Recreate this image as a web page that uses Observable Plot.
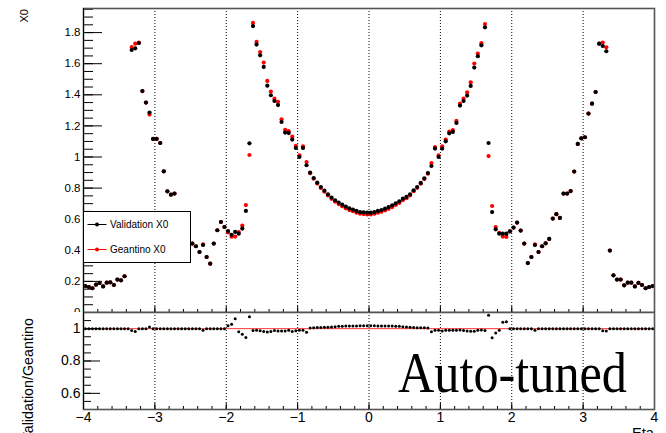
<!DOCTYPE html>
<html><head><meta charset="utf-8">
<script src="https://cdn.jsdelivr.net/npm/d3@7"></script>
<script src="https://cdn.jsdelivr.net/npm/@observablehq/plot@0.6"></script>
<style>
body{margin:0;background:#fff;}
#wrap{position:relative;width:666px;height:433px;overflow:hidden;font-family:"Liberation Sans",Arial,sans-serif;}
#wrap svg{position:absolute;left:0;top:0;}
</style></head><body><div id="wrap"></div>
<script>
// Histogram binning: 160 bins of width 0.05 over eta in [-4, 4]
const etaMin = -4, binWidth = 0.05, nBins = 160;

const validation = [
0.170,0.164,0.156,0.179,0.190,0.168,0.192,0.194,0.177,0.212,
0.207,0.233,0.398,1.688,1.699,1.733,1.424,1.350,1.286,1.116,
1.116,1.090,0.908,0.779,0.758,0.765,0.608,0.632,0.604,0.473,
0.443,0.426,0.389,0.434,0.357,0.314,0.443,0.529,0.582,0.550,
0.524,0.500,0.518,0.507,0.540,0.653,1.088,1.842,1.723,1.654,
1.579,1.459,1.397,1.360,1.334,1.225,1.157,1.154,1.112,1.058,
1.000,1.058,0.947,0.900,0.865,0.835,0.807,0.784,0.760,0.739,
0.722,0.707,0.694,0.681,0.670,0.662,0.653,0.646,0.644,0.642,
0.642,0.646,0.653,0.659,0.668,0.678,0.689,0.702,0.715,0.732,
0.743,0.760,0.786,0.807,0.833,0.863,0.897,0.942,1.054,1.000,
1.054,1.101,1.152,1.161,1.219,1.331,1.360,1.395,1.457,1.575,
1.648,1.718,1.834,1.090,0.646,0.535,0.507,0.507,0.507,0.522,
0.546,0.578,0.527,0.443,0.318,0.357,0.434,0.389,0.426,0.445,
0.473,0.604,0.632,0.608,0.765,0.765,0.781,0.906,1.084,1.120,
1.127,1.279,1.343,1.418,1.729,1.714,1.680,0.398,0.239,0.212,
0.212,0.175,0.192,0.192,0.168,0.190,0.177,0.156,0.164,0.170];

const geantino = [
0.170,0.164,0.156,0.179,0.190,0.168,0.192,0.194,0.177,0.212,
0.207,0.233,0.398,1.707,1.729,1.735,1.424,1.350,1.273,1.116,
1.116,1.090,0.908,0.779,0.758,0.765,0.608,0.632,0.604,0.473,
0.443,0.426,0.389,0.438,0.357,0.314,0.443,0.529,0.582,0.550,
0.515,0.487,0.488,0.517,0.559,0.691,1.013,1.862,1.740,1.675,
1.607,1.489,1.421,1.375,1.354,1.242,1.174,1.166,1.131,1.071,
1.010,1.069,0.968,0.896,0.860,0.829,0.801,0.777,0.753,0.731,
0.713,0.697,0.684,0.670,0.659,0.651,0.642,0.635,0.633,0.631,
0.631,0.635,0.642,0.648,0.657,0.667,0.678,0.692,0.705,0.723,
0.735,0.753,0.780,0.802,0.828,0.858,0.893,0.961,1.064,1.010,
1.069,1.112,1.163,1.173,1.232,1.343,1.375,1.416,1.480,1.601,
1.665,1.732,1.855,1.006,0.685,0.550,0.512,0.488,0.486,0.522,
0.546,0.578,0.527,0.443,0.318,0.357,0.438,0.389,0.426,0.445,
0.473,0.604,0.632,0.608,0.765,0.765,0.781,0.906,1.084,1.120,
1.127,1.279,1.343,1.418,1.729,1.736,1.705,0.398,0.239,0.212,
0.212,0.175,0.192,0.192,0.168,0.190,0.177,0.156,0.164,0.170];

const xMajorTicks = [-4,-3,-2,-1,0,1,2,3,4];
const xTickLabels = ["\u22124","\u22123","\u22122","\u22121","0","1","2","3","4"];
const gridX = [-3,-2,-1,0,1,2,3];
const topYTicks = [0,0.2,0.4,0.6,0.8,1,1.2,1.4,1.6,1.8];
const topYLabels = ["0","0.2","0.4","0.6","0.8","1","1.2","1.4","1.6","1.8"];
const ratioYTicks = [0.6,0.8,1];
const ratioYLabels = ["0.6","0.8","1"];
const legendLabels = ["Validation X0","Geantino X0"];

const xMinorTicks = d3.range(-40, 41, 2).map(d => d/10);
const topYMinor = d3.range(1, 40).map(d => d*0.05);
const ratioYMinor = d3.range(11, 23).map(d => d*0.05);

const rows = validation.map((v, i) => ({
  eta: etaMin + binWidth*(i + 0.5),
  validation: v,
  geantino: geantino[i],
  ratio: v / geantino[i]
}));

const FONT = "Liberation Sans, Arial, Helvetica, sans-serif";
const W = 666, ML = 83, MR = 12;
const innerW = W - ML - MR;

// ---------- top pad ----------
const topH = 312, topMT = 8, topMB = 0;
const topInnerH = topH - topMT - topMB;
const topPlot = Plot.plot({
  width: W, height: topH, marginLeft: ML, marginRight: MR, marginTop: topMT, marginBottom: topMB,
  x: {domain: [-4, 4], axis: null},
  y: {domain: [0, 1.955], axis: null},
  style: {fontFamily: FONT, overflow: "hidden", background: "transparent"},
  marks: [
    Plot.ruleX(gridX, {x: d => d, stroke: "#000", strokeDasharray: "1,2", strokeWidth: 1}),
    Plot.tickY(topYMinor, {y: d => d, insetRight: innerW - 10, stroke: "#000"}),
    Plot.tickY(topYTicks, {y: d => d, insetRight: innerW - 19, stroke: "#000"}),
    Plot.tickX(xMinorTicks, {x: d => d, insetTop: topInnerH - 3, stroke: "#000"}),
    Plot.tickX(xMajorTicks, {x: d => d, insetTop: topInnerH - 6, stroke: "#000"}),
    Plot.text(topYTicks, {y: d => d, text: (d, i) => topYLabels[i], frameAnchor: "left", dx: -3, textAnchor: "end", fontSize: 11.5, fill: "#000"}),
    Plot.dot(rows, {x: "eta", y: "geantino", r: 2.1, fill: "#ff0000"}),
    Plot.dot(rows, {x: "eta", y: "validation", r: 2.1, fill: "#000"}),
    Plot.frame({stroke: "#555", strokeWidth: 1.6}),
    Plot.ruleX([-4], {x: d => d, stroke: "#000", strokeWidth: 1})
  ]
});

// legend
{
  const svg = d3.select(topPlot);
  const g = svg.append("g").attr("font-family", FONT).attr("font-size", 10).attr("text-anchor", "start");
  g.append("rect").attr("x", 83.5).attr("y", 211.5).attr("width", 107).attr("height", 51)
    .attr("fill", "#fff").attr("stroke", "#000").attr("stroke-width", 1);
  const colors = ["#000", "#ff0000"];
  legendLabels.forEach((lab, i) => {
    const y = 224.5 + i*25;
    g.append("line").attr("x1", 87.5).attr("x2", 106.5).attr("y1", y).attr("y2", y).attr("stroke", colors[i]).attr("stroke-width", 1);
    g.append("circle").attr("cx", 97).attr("cy", y).attr("r", 2).attr("fill", colors[i]);
    g.append("text").attr("x", 110).attr("y", y).attr("dy", "0.35em").attr("text-anchor", "start").attr("fill", "#000").text(lab);
  });
  svg.append("text").attr("transform", "translate(28,9) rotate(-90)").attr("text-anchor", "end")
    .attr("font-family", FONT).attr("font-size", 11).attr("fill", "#000").text("X0");
}

// ---------- ratio pad ----------
const botH = 433, botMT = 312, botMB = 24;
const botInnerH = botH - botMT - botMB;
const botPlot = Plot.plot({
  width: W, height: botH, marginLeft: ML, marginRight: MR, marginTop: botMT, marginBottom: botMB,
  x: {domain: [-4, 4], axis: null},
  y: {domain: [0.5, 1.1], axis: null},
  style: {fontFamily: FONT, overflow: "hidden", background: "transparent"},
  marks: [
    Plot.ruleX(gridX, {x: d => d, stroke: "#000", strokeDasharray: "1,2", strokeWidth: 1}),
    Plot.ruleY([1], {y: d => d, stroke: "#ff3333", strokeWidth: 1}),
    Plot.tickY(ratioYMinor, {y: d => d, insetRight: innerW - 8, stroke: "#000"}),
    Plot.tickY(ratioYTicks, {y: d => d, insetRight: innerW - 17, stroke: "#000"}),
    Plot.tickX(xMinorTicks, {x: d => d, insetTop: botInnerH - 3, stroke: "#000"}),
    Plot.tickX(xMajorTicks, {x: d => d, insetTop: botInnerH - 6, stroke: "#000"}),
    Plot.text(xMajorTicks, {x: d => d, text: (d, i) => xTickLabels[i], frameAnchor: "bottom", dy: 3, lineAnchor: "top", fontSize: 14, fill: "#000"}),
    Plot.text(ratioYTicks, {y: d => d, text: (d, i) => ratioYLabels[i], frameAnchor: "left", dx: -3, textAnchor: "end", fontSize: 14, fill: "#000"}),
    Plot.dot(rows, {x: "eta", y: "ratio", r: 1.5, fill: "#000"}),
    Plot.frame({stroke: "#555", strokeWidth: 1.6}),
    Plot.ruleX([-4], {x: d => d, stroke: "#000", strokeWidth: 1})
  ]
});
{
  const svg = d3.select(botPlot);
  svg.append("text").attr("x", 398).attr("y", 392).attr("text-anchor", "start")
    .attr("font-family", "Liberation Serif, Times New Roman, serif")
    .attr("font-size", 56).attr("textLength", 229).attr("lengthAdjust", "spacingAndGlyphs")
    .attr("fill", "#000").text("Auto-tuned");
  svg.append("text").attr("x", 654).attr("y", 437.5).attr("text-anchor", "end")
    .attr("font-family", FONT).attr("font-size", 14.7).attr("fill", "#000").text("Eta");
  svg.append("text").attr("transform", "translate(32.5,318) rotate(-90)").attr("text-anchor", "end")
    .attr("font-family", FONT).attr("font-size", 14.3).attr("fill", "#000").text("Validation/Geantino");
}

const wrap = document.getElementById("wrap");
wrap.appendChild(topPlot);
wrap.appendChild(botPlot);
</script></body></html>
